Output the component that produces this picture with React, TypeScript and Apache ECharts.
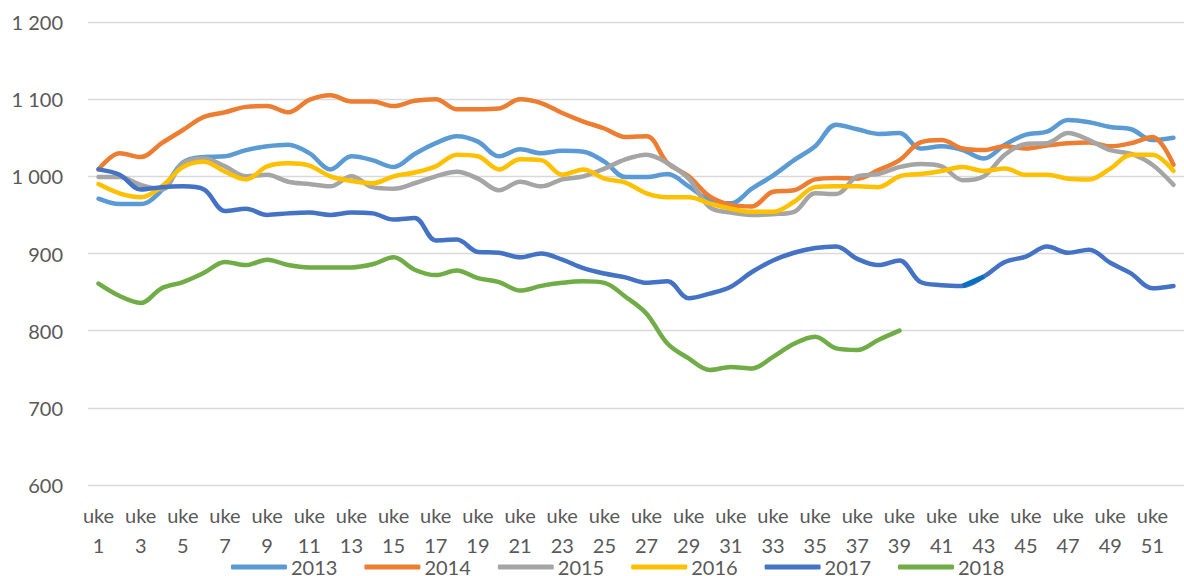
import React, { useEffect, useRef } from "react";
import * as echarts from "echarts";

const weeks: string[] = Array.from({ length: 52 }, (_, i) => `uke ${i + 1}`);

const s2013 = [971, 964, 964, 982, 1018, 1025, 1026, 1034, 1039, 1041, 1030, 1009, 1026, 1021, 1012, 1029, 1043, 1052, 1045, 1026, 1035, 1030, 1033, 1032, 1019, 999, 999, 1003, 987, 969, 965, 984, 1001, 1021, 1039, 1067, 1061, 1055, 1056, 1036, 1039, 1034, 1023, 1041, 1054, 1058, 1073, 1070, 1064, 1061, 1047, 1050];
const s2014 = [1009, 1030, 1025, 1043, 1060, 1077, 1083, 1090, 1091, 1083, 1099, 1105, 1097, 1097, 1091, 1098, 1100, 1087, 1087, 1088, 1100, 1095, 1082, 1071, 1062, 1051, 1052, 1017, 1000, 974, 963, 961, 980, 982, 996, 998, 997, 1008, 1021, 1044, 1047, 1036, 1034, 1039, 1036, 1040, 1043, 1044, 1039, 1043, 1051, 1015];
const s2015 = [999, 999, 989, 983, 1017, 1023, 1013, 1000, 1002, 993, 990, 987, 1000, 986, 984, 991, 1000, 1006, 997, 982, 993, 987, 996, 1000, 1010, 1022, 1028, 1017, 997, 960, 953, 950, 951, 954, 978, 977, 1000, 1003, 1012, 1016, 1013, 995, 1000, 1028, 1042, 1043, 1056, 1047, 1034, 1029, 1015, 989];
const s2016 = [990, 978, 973, 987, 1012, 1019, 1006, 996, 1013, 1017, 1014, 1000, 994, 991, 1000, 1005, 1013, 1028, 1026, 1009, 1022, 1021, 1002, 1009, 997, 992, 978, 973, 973, 965, 958, 954, 954, 967, 986, 987, 987, 986, 1000, 1003, 1007, 1012, 1007, 1010, 1002, 1002, 997, 996, 1010, 1028, 1028, 1007];
const s2017 = [1009, 1002, 983, 986, 987, 983, 955, 958, 950, 952, 953, 950, 953, 952, 944, 946, 917, 918, 902, 901, 895, 900, 892, 881, 874, 869, 862, 864, 842, 848, 857, 876, 891, 901, 907, 909, 893, 885, 891, 863, 859, 858, 870, 889, 896, 909, 901, 905, 888, 874, 855, 858];
const s2018 = [861, 845, 836, 855, 863, 875, 889, 885, 892, 885, 882, 882, 882, 886, 895, 879, 872, 878, 868, 863, 852, 858, 862, 864, 862, 844, 822, 783, 764, 749, 753, 751, 766, 783, 792, 777, 775, 788, 800];

const seriesNames = ["2013", "2014", "2015", "2016", "2017", "2018"];
const seriesData = [s2013, s2014, s2015, s2016, s2017, s2018];
const colors = ["#5B9BD5", "#ED7D31", "#A5A5A5", "#FFC000", "#4472C4", "#70AD47"];

// a short stretch of the 2017 line drawn in a darker blue (weeks 42-43)
const accentWeeks = [42, 43];
const accentColor = "#0070C0";

const FONT = "Lato, 'Open Sans', sans-serif";
const TEXT = "#595959";

function fmt(v: number): string {
  if (v >= 1000) {
    return `${Math.floor(v / 1000)} ${String(v % 1000).padStart(3, "0")}`;
  }
  return String(v);
}

export default function App() {
  const ref = useRef<HTMLDivElement>(null);

  useEffect(() => {
    if (!ref.current) return;
    const chart = echarts.init(ref.current, undefined, { renderer: "svg" });

    const series: any[] = seriesNames.map((name, i) => ({
      name,
      type: "line",
      data: seriesData[i],
      smooth: 0.35,
      symbol: "none",
      showSymbol: false,
      lineStyle: { color: colors[i], width: 4.5, cap: "round", join: "round" },
      itemStyle: { color: colors[i] },
      z: 2 + i,
    }));

    const accentData = weeks.map((_, idx) =>
      accentWeeks.includes(idx + 1) ? s2017[idx] : null
    );
    series.push({
      name: "2017-accent",
      type: "line",
      data: accentData,
      smooth: 0.35,
      symbol: "none",
      showSymbol: false,
      connectNulls: false,
      lineStyle: { color: accentColor, width: 4.5, cap: "butt" },
      itemStyle: { color: accentColor },
      z: 6.5,
    });

    chart.setOption({
      animation: false,
      backgroundColor: "#ffffff",
      color: colors,
      grid: { left: 88, top: 22, width: 1106, height: 463, containLabel: false },
      legend: {
        data: seriesNames,
        left: 231,
        top: 557,
        padding: 0,
        icon: "roundRect",
        itemWidth: 56,
        itemHeight: 5,
        itemGap: 27,
        textStyle: { fontFamily: FONT, fontSize: 20, color: TEXT, lineHeight: 20, padding: [0, 0, 0, -1] },
      },
      xAxis: {
        type: "category",
        data: weeks,
        boundaryGap: true,
        axisLine: { show: false },
        axisTick: { show: false },
        splitLine: { show: false },
        axisLabel: {
          interval: 1,
          margin: 10,
          fontFamily: FONT,
          fontSize: 20,
          color: TEXT,
          formatter: (v: string) => {
            const [w, n] = v.split(" ");
            return `{a|${w}}\n{b|${n}}`;
          },
          rich: {
            a: { fontFamily: FONT, fontSize: 20, color: TEXT, lineHeight: 40 },
            b: { fontFamily: FONT, fontSize: 20, color: TEXT, lineHeight: 20 },
          },
        },
      },
      yAxis: {
        type: "value",
        min: 600,
        max: 1200,
        interval: 100,
        axisLine: { show: false },
        axisTick: { show: false },
        splitLine: { lineStyle: { color: "#D9D9D9", width: 1.3 } },
        axisLabel: {
          margin: 25,
          fontFamily: FONT,
          fontSize: 20,
          color: TEXT,
          formatter: (v: number) => fmt(v),
        },
      },
      series,
    });

    return () => chart.dispose();
  }, []);

  return (
    <div
      ref={ref}
      style={{ position: "fixed", left: 0, top: 0, width: 1184, height: 576, background: "#fff" }}
    />
  );
}
